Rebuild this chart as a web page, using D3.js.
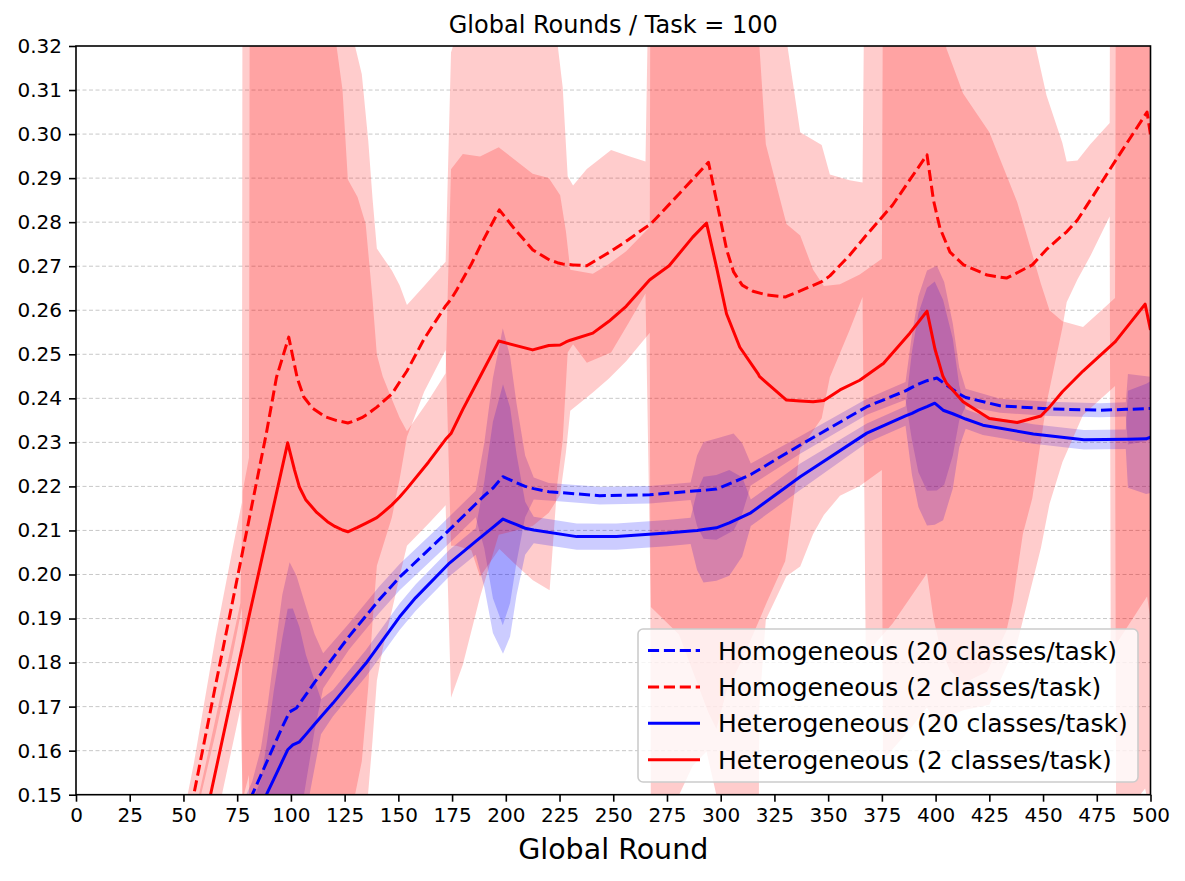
<!DOCTYPE html>
<html>
<head>
<meta charset="utf-8">
<script src="https://cdn.jsdelivr.net/npm/d3@7"></script>
<style>
  html, body { margin: 0; padding: 0; background: #fff; }
  svg { display: block; font-family: "DejaVu Sans", sans-serif; }
</style>
</head>
<body>
<svg id="chart" width="1185" height="881"></svg>
<script>
// [global round, mean, std]
const homo20 = [
  [60, 0.126, 0.003], [82, 0.150, 0.003], [86, 0.1544, 0.006], [89, 0.1577, 0.012],
  [92, 0.161, 0.02], [96, 0.1654, 0.03], [99.4, 0.1688, 0.034], [102.6, 0.1697, 0.03],
  [107, 0.1727, 0.02], [111, 0.1755, 0.011], [115, 0.1781, 0.004], [127, 0.1859, 0.003],
  [141, 0.1942, 0.003], [150.6, 0.1994, 0.003], [169, 0.2079, 0.003], [186, 0.216, 0.003],
  [190, 0.2179, 0.012], [194, 0.2196, 0.025], [198.6, 0.2222, 0.0337], [202, 0.2215, 0.028],
  [205, 0.2208, 0.018], [209, 0.22, 0.007], [213, 0.2195, 0.0025], [220, 0.2188, 0.002],
  [243.7, 0.2179, 0.002], [267, 0.2181, 0.002], [286, 0.2189, 0.002], [289, 0.219, 0.008],
  [292, 0.2191, 0.011], [298, 0.2194, 0.0115], [306, 0.221, 0.011], [310, 0.2218, 0.008],
  [314, 0.2227, 0.0025], [337, 0.2294, 0.002], [368, 0.2381, 0.0018], [386, 0.2417, 0.002],
  [389, 0.2425, 0.012], [392, 0.2432, 0.02], [396, 0.244, 0.025], [400.6, 0.2446, 0.0255],
  [404, 0.2434, 0.023], [408, 0.242, 0.015], [411, 0.241, 0.006], [414, 0.2402, 0.002],
  [430, 0.2383, 0.0016], [453, 0.2376, 0.0016], [476.5, 0.2373, 0.0016], [488.5, 0.2375, 0.0016],
  [489.5, 0.2375, 0.008], [500, 0.2377, 0.0072]
];

const homo2 = [
  [45, 0.126, 0.007], [54.8, 0.150, 0.007], [65, 0.175, 0.011], [73, 0.1942, 0.012],
  [77.2, 0.2044, 0.012], [77.6, 0.2054, 0.2], [88.6, 0.2321, 0.2], [93.3, 0.2448, 0.2],
  [99, 0.2539, 0.2], [100.9, 0.2494, 0.2], [103, 0.2445, 0.2], [106, 0.2403, 0.2],
  [110, 0.2378, 0.2], [116, 0.2358, 0.2], [121, 0.235, 0.2], [126.5, 0.2344, 0.1],
  [128.5, 0.2347, 0.088], [133, 0.2356, 0.078], [136, 0.2365, 0.062], [138, 0.2373, 0.048],
  [140, 0.238, 0.036], [147, 0.241, 0.028], [150.6, 0.2437, 0.022], [154, 0.2462, 0.015],
  [162, 0.2535, 0.012], [172, 0.261, 0.01], [174.5, 0.2625, 0.056], [177, 0.2645, 0.058],
  [184, 0.2705, 0.065], [188, 0.2745, 0.075], [197, 0.2828, 0.077], [204, 0.2785, 0.076],
  [212.6, 0.2737, 0.075], [220.4, 0.2714, 0.075], [224, 0.2708, 0.05], [226.5, 0.2705, 0.04],
  [228.8, 0.2704, 0.02], [231.3, 0.2703, 0.018], [237.7, 0.2701, 0.022], [249, 0.2734, 0.023],
  [257, 0.276, 0.019], [265, 0.2788, 0.015], [267.5, 0.2796, 0.087], [280.6, 0.2864, 0.1],
  [294.3, 0.2936, 0.125], [298, 0.285, 0.12], [302.8, 0.2737, 0.1], [306, 0.2687, 0.092],
  [310, 0.2657, 0.085], [315, 0.2643, 0.078], [321.3, 0.2635, 0.07], [330, 0.263, 0.06],
  [331, 0.2632, 0.057], [337, 0.2644, 0.036], [347, 0.2665, 0.031], [350.8, 0.2678, 0.023],
  [360, 0.2725, 0.017], [366, 0.276, 0.013], [367.5, 0.2769, 0.095], [380, 0.2839, 0.095],
  [396, 0.2953, 0.095], [399, 0.285, 0.095], [402, 0.2787, 0.095], [406.7, 0.2732, 0.095],
  [413, 0.2703, 0.095], [424, 0.268, 0.09], [433, 0.2673, 0.08], [436, 0.268, 0.074],
  [440.6, 0.2692, 0.06], [445, 0.2703, 0.053], [451.6, 0.2738, 0.035], [459, 0.277, 0.021],
  [461, 0.2778, 0.016], [466, 0.2805, 0.0135], [472, 0.285, 0.0127], [481, 0.2919, 0.0106],
  [481.5, 0.2923, 0.11], [498.4, 0.305, 0.11], [500, 0.2998, 0.11]
];

const hetero20 = [
  [70, 0.131, 0.003], [86, 0.1473, 0.006], [89, 0.1504, 0.012], [92, 0.1535, 0.02],
  [96, 0.1576, 0.028], [98.5, 0.1602, 0.032], [100.9, 0.1613, 0.031], [104, 0.162, 0.026],
  [107, 0.1637, 0.018], [111, 0.166, 0.01], [114, 0.1677, 0.004], [119.6, 0.1708, 0.003],
  [135, 0.1799, 0.003], [150.6, 0.1904, 0.003], [158, 0.1947, 0.003], [173.8, 0.2026, 0.003],
  [186, 0.2075, 0.003], [190, 0.2091, 0.012], [194, 0.2107, 0.024], [198.7, 0.2126, 0.0306],
  [202, 0.2119, 0.026], [205, 0.2113, 0.016], [209, 0.2105, 0.006], [213, 0.2101, 0.003],
  [233, 0.2086, 0.003], [251.5, 0.2086, 0.003], [275, 0.2094, 0.003], [286, 0.2099, 0.003],
  [289, 0.21, 0.009], [292, 0.2102, 0.012], [298, 0.2106, 0.012], [304, 0.2117, 0.012],
  [310, 0.2131, 0.009], [314, 0.214, 0.003], [337, 0.2222, 0.003], [368, 0.2321, 0.0022],
  [386, 0.236, 0.0022], [389, 0.2366, 0.014], [392, 0.2373, 0.022], [396, 0.2381, 0.027],
  [399.6, 0.2389, 0.0276], [403.5, 0.2373, 0.025], [408, 0.2365, 0.017], [411, 0.2359, 0.007],
  [414, 0.2353, 0.0022], [422, 0.2339, 0.0022], [445.5, 0.2319, 0.0022], [469, 0.2306, 0.0022],
  [488.5, 0.2307, 0.0022], [489.5, 0.2307, 0.011], [498, 0.2308, 0.0125], [500, 0.2312, 0.0127]
];

const hetero2 = [
  [50, 0.122, 0.012], [62.6, 0.150, 0.012], [72, 0.1713, 0.012], [76.5, 0.1815, 0.012],
  [77.6, 0.184, 0.035], [80.5, 0.1905, 0.036], [81, 0.1916, 0.2], [82.2, 0.1942, 0.2],
  [98.5, 0.2299, 0.2], [101.7, 0.2237, 0.2], [104, 0.2198, 0.2], [107, 0.2169, 0.2],
  [112, 0.2141, 0.2], [117, 0.212, 0.2], [120.5, 0.2109, 0.2], [121, 0.2108, 0.11],
  [124, 0.2101, 0.1], [126.5, 0.2097, 0.08], [131, 0.2107, 0.075], [134.8, 0.2116, 0.068],
  [138, 0.2124, 0.05], [140, 0.2129, 0.037], [142.7, 0.214, 0.031], [147, 0.2158, 0.024],
  [150.6, 0.2176, 0.018], [154, 0.2195, 0.013], [164, 0.2255, 0.014], [172, 0.2307, 0.015],
  [174.5, 0.232, 0.06], [180, 0.2375, 0.058], [188, 0.2449, 0.05], [196.7, 0.253, 0.044],
  [212.5, 0.251, 0.04], [220, 0.252, 0.038], [225.3, 0.2521, 0.034], [228, 0.2528, 0.025],
  [230, 0.2532, 0.016], [240.5, 0.2548, 0.0135], [248, 0.2575, 0.013], [256, 0.2609, 0.0125],
  [267, 0.2669, 0.012], [267.5, 0.2671, 0.125], [276, 0.2701, 0.125], [287, 0.2766, 0.12],
  [293.4, 0.2798, 0.12], [298, 0.2699, 0.12], [302.7, 0.2592, 0.12], [308.9, 0.2516, 0.12],
  [317.5, 0.2455, 0.12], [318, 0.245, 0.075], [321, 0.2437, 0.054], [330.6, 0.2396, 0.04],
  [337, 0.2394, 0.0376], [343, 0.2392, 0.03], [348, 0.2395, 0.026], [355.5, 0.2419, 0.024],
  [364.7, 0.2441, 0.024], [375, 0.2477, 0.024], [375.5, 0.2478, 0.09], [388, 0.2548, 0.09],
  [396, 0.2598, 0.09], [399.7, 0.2512, 0.085], [403.4, 0.245, 0.08], [405, 0.2435, 0.076],
  [412.8, 0.2392, 0.07], [425, 0.2354, 0.065], [438, 0.2345, 0.05], [449, 0.236, 0.03],
  [453, 0.238, 0.022], [459, 0.2415, 0.016], [468.6, 0.2462, 0.01], [483.5, 0.2528, 0.01],
  [484, 0.2531, 0.11], [497.5, 0.2614, 0.11], [500, 0.2555, 0.11]
];

const seriesLabels = [
  "Homogeneous (20 classes/task)",
  "Homogeneous (2 classes/task)",
  "Heterogeneous (20 classes/task)",
  "Heterogeneous (2 classes/task)"
];
const xTicks = d3.range(0, 501, 25);
const yTicks = [0.15, 0.16, 0.17, 0.18, 0.19, 0.20, 0.21, 0.22, 0.23, 0.24, 0.25, 0.26, 0.27, 0.28, 0.29, 0.30, 0.31, 0.32];

const series = [
  { label: seriesLabels[0], data: homo20, color: "#0000ff", dashed: true },
  { label: seriesLabels[1], data: homo2, color: "#ff0000", dashed: true },
  { label: seriesLabels[2], data: hetero20, color: "#0000ff", dashed: false },
  { label: seriesLabels[3], data: hetero2, color: "#ff0000", dashed: false }
];

const svg = d3.select("#chart");
const plot = { left: 76, right: 1150.5, top: 46, bottom: 794.7 };
const dash = "11.1,4.8";

const x = d3.scaleLinear().domain([0, 500]).range([plot.left, plot.right]);
const y = d3.scaleLinear().domain([0.15, 0.32]).range([plot.bottom, plot.top]);

svg.append("defs").append("clipPath")
  .attr("id", "plotClip")
  .append("rect")
  .attr("x", plot.left).attr("y", plot.top)
  .attr("width", plot.right - plot.left)
  .attr("height", plot.bottom - plot.top);

// horizontal grid
svg.append("g")
  .selectAll("line")
  .data(yTicks.filter(t => t > 0.155 && t < 0.315))
  .join("line")
  .attr("x1", plot.left).attr("x2", plot.right)
  .attr("y1", d => y(d)).attr("y2", d => y(d))
  .attr("stroke", "#b0b0b0")
  .attr("stroke-opacity", 0.7)
  .attr("stroke-width", 1)
  .attr("stroke-dasharray", "4,2.5");

const gPlot = svg.append("g").attr("clip-path", "url(#plotClip)");

const band = d3.area()
  .x(d => x(d[0]))
  .y0(d => y(d[1] - d[2]))
  .y1(d => y(d[1] + d[2]));

const line = d3.line()
  .x(d => x(d[0]))
  .y(d => y(d[1]));

// std bands first, mean lines on top
gPlot.selectAll("path.band")
  .data(series)
  .join("path")
  .attr("class", "band")
  .attr("fill", d => d.color)
  .attr("fill-opacity", 0.2)
  .attr("d", d => band(d.data));

gPlot.selectAll("path.mean")
  .data(series)
  .join("path")
  .attr("class", "mean")
  .attr("fill", "none")
  .attr("stroke", d => d.color)
  .attr("stroke-width", 3)
  .attr("stroke-linejoin", "round")
  .attr("stroke-dasharray", d => d.dashed ? dash : null)
  .attr("d", d => line(d.data));

// axes
const xAxis = svg.append("g")
  .attr("transform", `translate(0,${plot.bottom})`)
  .call(d3.axisBottom(x).tickValues(xTicks).tickSize(7).tickPadding(6).tickFormat(d3.format("d")));

const yAxis = svg.append("g")
  .attr("transform", `translate(${plot.left},0)`)
  .call(d3.axisLeft(y).tickValues(yTicks).tickSize(7).tickPadding(7).tickFormat(d3.format(".2f")));

[xAxis, yAxis].forEach(g => {
  g.select(".domain").remove();
  g.selectAll(".tick line").attr("stroke", "#000").attr("stroke-width", 1.6);
  g.selectAll(".tick text").attr("fill", "#000").attr("font-size", 20)
    .attr("font-family", "DejaVu Sans");
});

// frame
svg.append("rect")
  .attr("x", plot.left).attr("y", plot.top)
  .attr("width", plot.right - plot.left)
  .attr("height", plot.bottom - plot.top)
  .attr("fill", "none")
  .attr("stroke", "#000")
  .attr("stroke-width", 1.6);

// title and x label
svg.append("text")
  .attr("x", (plot.left + plot.right) / 2).attr("y", 33)
  .attr("text-anchor", "middle")
  .attr("font-size", 24)
  .text("Global Rounds / Task = 100");

svg.append("text")
  .attr("x", (plot.left + plot.right) / 2).attr("y", 859)
  .attr("text-anchor", "middle")
  .attr("font-size", 28.5)
  .text("Global Round");

// legend
const legend = svg.append("g").attr("transform", "translate(638,629)");
legend.append("rect")
  .attr("width", 500).attr("height", 153)
  .attr("rx", 5).attr("ry", 5)
  .attr("fill", "#fff").attr("fill-opacity", 0.8)
  .attr("stroke", "#cccccc").attr("stroke-width", 1.6);

const items = legend.selectAll("g.item")
  .data(series)
  .join("g")
  .attr("class", "item")
  .attr("transform", (_, i) => `translate(0,${21.5 + i * 36.4})`);

items.append("line")
  .attr("x1", 10).attr("x2", 62)
  .attr("stroke", d => d.color)
  .attr("stroke-width", 3)
  .attr("stroke-dasharray", d => d.dashed ? dash : null);

items.append("text")
  .attr("x", 80).attr("y", 0)
  .attr("dy", "0.36em")
  .attr("font-size", 25)
  .text(d => d.label);
</script>
</body>
</html>
